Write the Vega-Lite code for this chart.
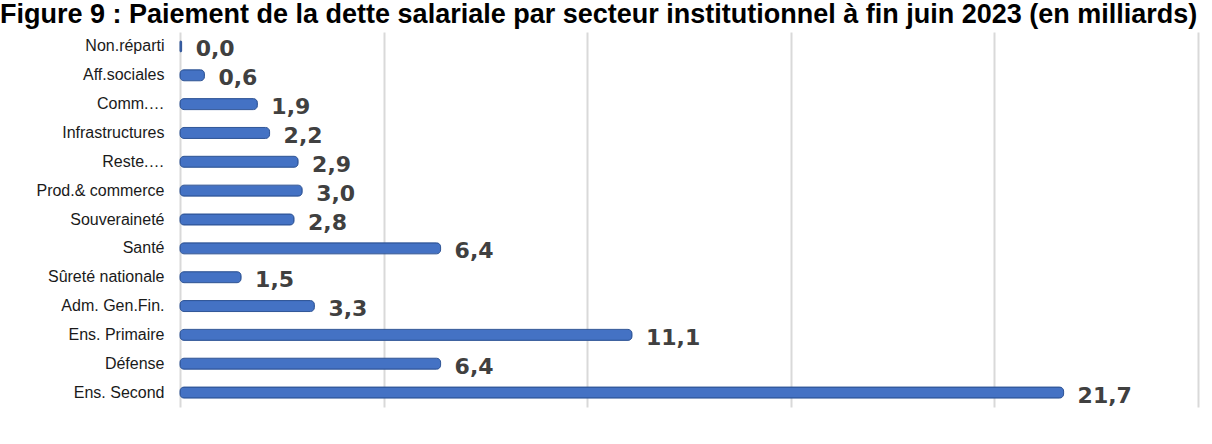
{
  "$schema": "https://vega.github.io/schema/vega-lite/v6.json",
  "width": 1018,
  "height": 375,
  "autosize": {"type": "none"},
  "padding": {"left": 180, "top": 32, "right": 14, "bottom": 37},
  "background": "white",
  "title": {
    "text": "Figure 9 : Paiement de la dette salariale par secteur institutionnel à fin juin 2023 (en milliards)",
    "anchor": "start",
    "frame": "group",
    "dx": -180,
    "baseline": "top",
    "offset": 3,
    "font": "Liberation Sans",
    "fontSize": 27,
    "fontWeight": "bold",
    "color": "#000000"
  },
  "config": {
    "locale": {"number": {"decimal": ",", "thousands": " ", "grouping": [3], "currency": ["", " €"]}},
    "view": {"stroke": null}
  },
  "data": {
    "values": [
      {"secteur": "Non.réparti", "montant": 0.04},
      {"secteur": "Aff.sociales", "montant": 0.6},
      {"secteur": "Comm.…", "montant": 1.9},
      {"secteur": "Infrastructures", "montant": 2.2},
      {"secteur": "Reste.…", "montant": 2.9},
      {"secteur": "Prod.& commerce", "montant": 3.0},
      {"secteur": "Souveraineté", "montant": 2.8},
      {"secteur": "Santé", "montant": 6.4},
      {"secteur": "Sûreté nationale", "montant": 1.5},
      {"secteur": "Adm. Gen.Fin.", "montant": 3.3},
      {"secteur": "Ens. Primaire", "montant": 11.1},
      {"secteur": "Défense", "montant": 6.4},
      {"secteur": "Ens. Second", "montant": 21.7}
    ]
  },
  "encoding": {
    "y": {
      "field": "secteur",
      "type": "nominal",
      "sort": null,
      "scale": {"paddingInner": 0.6, "paddingOuter": 0.3},
      "axis": {
        "title": null,
        "ticks": false,
        "domain": false,
        "labelFont": "Liberation Sans",
        "labelFontSize": 16,
        "labelColor": "#1a1a1a",
        "labelPadding": 16,
        "labelLimit": 220
      }
    },
    "x": {
      "field": "montant",
      "type": "quantitative",
      "scale": {"domain": [0, 25], "nice": false},
      "axis": {
        "title": null,
        "labels": false,
        "ticks": false,
        "domain": false,
        "values": [0, 5, 10, 15, 20, 25],
        "grid": true,
        "gridColor": "#d9d9d9",
        "gridWidth": 2
      }
    }
  },
  "layer": [
    {
      "mark": {
        "type": "bar",
        "size": 11,
        "cornerRadius": 4,
        "fill": "#4472C4",
        "stroke": "#2F5597",
        "strokeWidth": 1
      }
    },
    {
      "mark": {
        "type": "text",
        "align": "left",
        "baseline": "middle",
        "dx": 14,
        "dy": 3,
        "font": "DejaVu Sans",
        "fontSize": 22,
        "fontWeight": "bold",
        "color": "#404040"
      },
      "encoding": {
        "text": {"field": "montant", "type": "quantitative", "format": ".1f"}
      }
    }
  ]
}
